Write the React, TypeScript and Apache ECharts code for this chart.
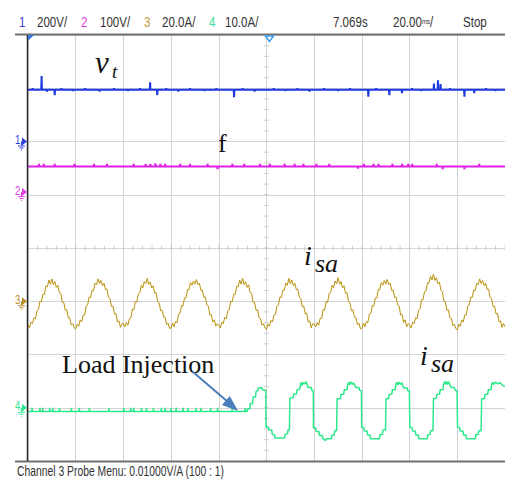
import React, { useEffect, useRef } from "react";
import * as echarts from "echarts";

// ---- axes (time in ms, 20 ms/div; vertical in divisions) ----
const xMin = 0;
const xMax = 200;
const xInterval = 20;
const yMin = -4;
const yMax = 4;
const yInterval = 1;

// ---- header / footer texts ----
const headerChannels = [
  { num: "1", scale: "200V/", color: "#3b3fe0" },
  { num: "2", scale: "100V/", color: "#e040e0" },
  { num: "3", scale: "20.0A/", color: "#c09a40" },
  { num: "4", scale: "10.0A/", color: "#40e0a0" },
];
const headerTime = "7.069s";
const headerTimebase = "20.00";
const headerState = "Stop";
const footerText = "Channel 3 Probe Menu: 0.01000V/A (100 : 1)";

// ---- channel 1 (v_t): level and spikes [ms, div] ----
const blueLevel = 2.97;
const blueSpikes: [number, number][] = [
  [2.0, 3.0], [5.7, 3.23], [8.0, 2.94], [11.2, 2.87], [14.0, 3.0], [19.0, 2.95], [24.0, 3.0],
  [30.0, 2.94], [36.0, 3.0], [42.0, 2.95], [47.0, 3.0], [51.2, 3.11], [54.2, 2.87], [58.0, 3.0],
  [63.0, 2.94], [68.0, 3.0], [74.0, 2.95], [79.0, 3.0], [86.4, 2.83], [90.0, 3.0], [95.0, 2.94],
  [103.0, 3.0], [108.0, 2.95], [113.0, 3.0], [118.0, 2.94], [124.0, 3.0], [130.0, 2.95],
  [135.0, 3.0], [142.7, 2.84], [146.0, 3.0], [151.5, 2.87], [156.8, 2.91], [161.0, 3.0],
  [165.0, 2.95], [170.2, 3.09], [171.9, 3.15], [173.0, 3.08], [177.0, 3.0], [183.0, 2.84],
  [187.1, 2.91], [192.0, 3.0], [196.0, 2.95],
];

// ---- channel 2 (f): level and spikes ----
const magentaLevel = 1.53;
const magentaSpikes: [number, number][] = [
  [4.6, 1.58], [6.6, 1.58], [11.2, 1.58], [19.5, 1.58], [27.7, 1.58], [33.1, 1.58], [44.3, 1.58],
  [49.3, 1.58], [51.3, 1.58], [53.4, 1.59], [55.5, 1.58], [57.5, 1.58], [63.8, 1.58], [67.9, 1.58],
  [75.3, 1.58], [79.5, 1.48], [85.7, 1.58], [90.7, 1.58], [97.3, 1.58], [101.4, 1.58],
  [107.6, 1.58], [111.8, 1.58], [115.5, 1.58], [120.9, 1.58], [126.3, 1.58], [138.3, 1.49],
  [140.8, 1.58], [144.9, 1.58], [147.0, 1.58], [152.8, 1.58], [156.9, 1.58], [159.4, 1.58],
  [161.1, 1.58], [171.4, 1.58], [173.9, 1.48], [183.0, 1.48], [189.2, 1.58],
];

// ---- channel 3 (i_sa source current): samples every 0.625 ms from 0 ms ----
const goldStep = 0.625;
const goldValues = [
  -1.44, -1.50, -1.39, -1.42, -1.31, -1.33, -1.18, -1.16, -1.00, -1.01, -0.87, -0.87, -0.71, -0.73, -0.60, -0.68,
  -0.58, -0.69, -0.63, -0.74, -0.70, -0.84, -0.85, -1.02, -1.02, -1.17, -1.16, -1.31, -1.31, -1.45, -1.42, -1.50,
  -1.52, -1.43, -1.47, -1.35, -1.39, -1.26, -1.26, -1.09, -1.07, -0.92, -0.93, -0.79, -0.80, -0.66, -0.69, -0.58,
  -0.67, -0.61, -0.71, -0.66, -0.78, -0.77, -0.93, -0.95, -1.10, -1.09, -1.24, -1.23, -1.39, -1.37, -1.49, -1.42,
  -1.42, -1.48, -1.40, -1.45, -1.33, -1.32, -1.15, -1.16, -1.01, -1.02, -0.86, -0.84, -0.70, -0.75, -0.63, -0.67,
  -0.57, -0.68, -0.64, -0.75, -0.71, -0.85, -0.84, -1.01, -1.03, -1.18, -1.17, -1.30, -1.30, -1.44, -1.41, -1.51,
  -1.50, -1.41, -1.48, -1.38, -1.40, -1.24, -1.23, -1.08, -1.09, -0.94, -0.94, -0.78, -0.78, -0.65, -0.70, -0.62,
  -0.68, -0.59, -0.69, -0.66, -0.80, -0.79, -0.93, -0.92, -1.07, -1.09, -1.26, -1.25, -1.39, -1.35, -1.47, -1.42,
  -1.45, -1.50, -1.39, -1.42, -1.30, -1.33, -1.18, -1.16, -1.00, -1.01, -0.87, -0.87, -0.72, -0.73, -0.60, -0.68,
  -0.57, -0.69, -0.63, -0.74, -0.69, -0.84, -0.85, -1.02, -1.02, -1.17, -1.16, -1.31, -1.32, -1.45, -1.42, -1.50,
  -1.53, -1.43, -1.47, -1.36, -1.39, -1.26, -1.25, -1.09, -1.07, -0.92, -0.93, -0.79, -0.79, -0.66, -0.70, -0.57,
  -0.67, -0.60, -0.71, -0.66, -0.78, -0.77, -0.92, -0.95, -1.10, -1.09, -1.24, -1.22, -1.39, -1.37, -1.50, -1.42,
  -1.43, -1.48, -1.40, -1.45, -1.32, -1.32, -1.15, -1.17, -1.01, -1.02, -0.85, -0.84, -0.70, -0.75, -0.62, -0.67,
  -0.56, -0.68, -0.63, -0.75, -0.71, -0.85, -0.84, -1.01, -1.03, -1.18, -1.16, -1.30, -1.31, -1.44, -1.41, -1.52,
  -1.51, -1.41, -1.48, -1.38, -1.40, -1.24, -1.23, -1.08, -1.09, -0.94, -0.94, -0.78, -0.78, -0.65, -0.70, -0.61,
  -0.68, -0.59, -0.69, -0.66, -0.80, -0.79, -0.93, -0.92, -1.07, -1.09, -1.26, -1.25, -1.40, -1.35, -1.48, -1.42,
  -1.45, -1.50, -1.39, -1.42, -1.31, -1.33, -1.17, -1.14, -0.97, -0.97, -0.82, -0.81, -0.65, -0.66, -0.53, -0.60,
  -0.49, -0.61, -0.56, -0.67, -0.64, -0.79, -0.82, -1.00, -1.01, -1.17, -1.16, -1.31, -1.32, -1.46, -1.43, -1.51,
  -1.54, -1.43, -1.47, -1.35, -1.39, -1.26, -1.26, -1.09, -1.07, -0.92, -0.93, -0.79, -0.80, -0.66, -0.69, -0.58,
  -0.67, -0.61, -0.71, -0.66, -0.78, -0.77, -0.93, -0.95, -1.10, -1.09, -1.24, -1.23, -1.39, -1.37, -1.49, -1.42,
  -1.48,
];

// ---- channel 4 (i_sa load current) ----
const greenLevel = -3.07;
const greenPreTicks: [number, number][] = [
  [1.7, -3.0], [5.0, -3.0], [6.2, -3.0], [9.1, -3.0], [10.4, -3.0], [13.2, -3.0], [18.2, -3.0],
  [21.5, -3.0], [25.7, -3.0], [33.9, -3.0], [40.2, -3.0], [43.1, -3.0], [44.3, -3.0], [47.6, -3.0],
  [49.7, -3.0], [52.6, -3.0], [55.9, -3.0], [57.5, -3.0], [60.0, -3.0], [62.1, -3.0], [65.0, -3.0],
  [67.1, -3.0], [70.4, -3.0], [72.5, -3.0], [76.6, -3.0], [79.5, -3.0], [85.6, -3.0], [91.1, -3.0],
];
const greenAfterInjection: [number, number][] = [
  [91.8, -3.07], [92.2, -3.02], [93.0, -3.02], [93.2, -2.92], [94.2, -2.92], [94.4, -2.80], [95.4, -2.80],
  [95.6, -2.70], [96.4, -2.68], [96.6, -2.63], [98.0, -2.62], [98.3, -2.66], [99.7, -2.67],
  [99.8, -3.36], [100.8, -3.36], [101.0, -3.42], [102.2, -3.42], [102.4, -3.50], [103.4, -3.51],
  [103.6, -3.57], [107.6, -3.57], [107.8, -3.50], [108.8, -3.49], [109.0, -3.42], [109.6, -3.42],
  [109.8, -2.82], [111.2, -2.81], [111.4, -2.74], [112.6, -2.74], [112.8, -2.66], [114.0, -2.65],
  [114.2, -2.58], [114.6, -2.52], [115.0, -2.58], [115.4, -2.53], [116.2, -2.55], [116.6, -2.51],
  [117.0, -2.56], [117.4, -2.62], [118.8, -2.62], [119.0, -2.67], [119.6, -2.68],
  [119.7, -3.38], [120.6, -3.38], [120.8, -3.44], [122.0, -3.45], [122.2, -3.52], [123.4, -3.52],
  [123.6, -3.58], [124.4, -3.60], [124.6, -3.62], [125.2, -3.58], [127.2, -3.58], [127.4, -3.52],
  [128.4, -3.51], [128.6, -3.43], [129.4, -3.43], [129.6, -2.83], [131.0, -2.83], [131.2, -2.75],
  [132.4, -2.74], [132.6, -2.66], [133.8, -2.66], [134.0, -2.58], [134.4, -2.52], [134.8, -2.57],
  [135.2, -2.51], [136.0, -2.56], [136.4, -2.53], [137.0, -2.58], [137.4, -2.62], [138.8, -2.62],
  [139.0, -2.67], [139.8, -2.68],
  [139.9, -3.37], [140.8, -3.37], [141.0, -3.43], [142.2, -3.44], [142.4, -3.51], [143.4, -3.51],
  [143.6, -3.58], [147.4, -3.58], [147.6, -3.50], [148.6, -3.50], [148.8, -3.42], [149.9, -3.42],
  [150.1, -2.83], [151.2, -2.83], [151.4, -2.75], [152.6, -2.74], [152.8, -2.66], [154.0, -2.66],
  [154.2, -2.57], [154.6, -2.52], [155.0, -2.57], [155.6, -2.52], [156.2, -2.56], [156.8, -2.53],
  [157.2, -2.60], [157.6, -2.63], [159.0, -2.63], [159.2, -2.68], [159.9, -2.68],
  [160.1, -3.37], [161.0, -3.37], [161.2, -3.43], [162.4, -3.44], [162.6, -3.51], [163.6, -3.51],
  [163.8, -3.58], [167.4, -3.58], [167.6, -3.51], [168.6, -3.50], [168.8, -3.43], [169.8, -3.43],
  [170.0, -2.83], [171.2, -2.82], [171.4, -2.75], [172.6, -2.74], [172.8, -2.66], [174.0, -2.66],
  [174.2, -2.57], [174.6, -2.51], [175.0, -2.56], [175.4, -2.50], [175.8, -2.56], [176.4, -2.51],
  [177.0, -2.58], [177.4, -2.62], [178.8, -2.62], [179.0, -2.67], [179.9, -2.68],
  [180.1, -3.37], [181.0, -3.37], [181.2, -3.43], [182.4, -3.44], [182.6, -3.51], [183.6, -3.51],
  [183.8, -3.58], [187.6, -3.58], [187.8, -3.50], [188.8, -3.50], [189.0, -3.43], [190.0, -3.43],
  [190.2, -2.83], [191.4, -2.83], [191.6, -2.75], [192.8, -2.74], [193.0, -2.66], [194.2, -2.66],
  [194.4, -2.57], [194.8, -2.52], [195.2, -2.56], [196.0, -2.52], [197.0, -2.55], [198.0, -2.53],
  [199.0, -2.58], [200.0, -2.60],
];

// channel ground markers (div)
const channelMarkers = [
  { label: "1", color: "#2f3fe0", level: 2.0 },
  { label: "2", color: "#e040e0", level: 1.05 },
  { label: "3", color: "#b8902a", level: -1.0 },
  { label: "4", color: "#30e890", level: -3.0 },
];

// ---- layout constants (pixels) ----
const GRID_LEFT = 28;
const GRID_TOP = 35;
const GRID_BOTTOM_Y = 461;
const DIV_H = (GRID_BOTTOM_Y - GRID_TOP) / (yMax - yMin);
const yPix = (d: number) => GRID_TOP + (yMax - d) * DIV_H;

function flatWithSpikes(level: number, spikes: [number, number][], t0: number, t1: number) {
  const out: [number, number][] = [[t0, level]];
  spikes.forEach(([t, v]) => {
    out.push([t - 0.15, level], [t, v], [t + 0.15, level]);
  });
  out.push([t1, level]);
  return out;
}

export default function App() {
  const ref = useRef<HTMLDivElement>(null);
  useEffect(() => {
    document.body.style.margin = "0";
    if (!ref.current) return;
    const chart = echarts.init(ref.current, undefined, { renderer: "svg" });

    const blueData = flatWithSpikes(blueLevel, blueSpikes, xMin, xMax);
    const magentaData = flatWithSpikes(magentaLevel, magentaSpikes, xMin, xMax);
    const goldData = goldValues.map((v, i) => [i * goldStep, v]);
    const greenData = [
      ...flatWithSpikes(greenLevel, greenPreTicks, xMin, 91.8).slice(0, -1),
      ...greenAfterInjection,
    ];

    const minorH: number[][] = [];
    for (let t = xMin; t <= xMax; t += xInterval / 5) minorH.push([t, 0]);
    const minorV: number[][] = [];
    for (let k = yMin * 5; k <= yMax * 5; k++) minorV.push([100, k / 5]);

    const serifFont = "'Liberation Serif', 'DejaVu Serif', serif";
    const scopeFont = "'Liberation Sans', Arial, sans-serif";
    const HS = 0.77; // horizontal condensing of the scope font

    const graphics: any[] = [];
    // borders
    graphics.push(
      { type: "line", shape: { x1: 15, y1: 34.5, x2: 505, y2: 34.5 }, style: { stroke: "#707070", lineWidth: 2 }, z: 10 },
      { type: "line", shape: { x1: 15, y1: 461.5, x2: 505, y2: 461.5 }, style: { stroke: "#707070", lineWidth: 2 }, z: 10 },
      { type: "line", shape: { x1: 27.5, y1: 35, x2: 27.5, y2: 461 }, style: { stroke: "#2a2a2a", lineWidth: 1.5 }, z: 10 }
    );
    // trigger markers
    graphics.push(
      { type: "polygon", shape: { points: [[28, 35], [34, 35], [28, 41]] }, style: { fill: "#3a7be0" }, z: 11 },
      { type: "polygon", shape: { points: [[265.5, 36], [273.5, 36], [269.5, 41.5]] }, style: { fill: "#ffffff", stroke: "#3d9be9", lineWidth: 1.5 }, z: 11 }
    );
    // header
    const hx = [[19, 37], [81, 100], [144, 162], [209, 225]];
    const hText = (x: number, text: string, fill: string, extra: any = {}) => ({
      type: "text", x, y: 22, scaleX: HS,
      style: { text, fill, font: `15px ${scopeFont}`, verticalAlign: "middle", ...extra },
    });
    headerChannels.forEach((c, i) => {
      graphics.push(hText(hx[i][0], c.num, c.color), hText(hx[i][1], c.scale, "#333333"));
    });
    graphics.push(
      hText(333, headerTime, "#333333"),
      hText(393, `${headerTimebase}{u|ms}/`, "#333333", {
        rich: { u: { fontSize: 8, fontFamily: scopeFont, fill: "#333333" } },
      }),
      hText(463, headerState, "#333333"),
      {
        type: "text", x: 17, y: 471.5, scaleX: 0.74,
        style: { text: footerText, fill: "#333333", font: `14px ${scopeFont}`, verticalAlign: "middle" },
      }
    );
    // channel markers
    channelMarkers.forEach((m) => {
      const y = yPix(m.level);
      graphics.push(
        { type: "text", x: 15, y: y - 2, scaleX: 0.8, style: { text: m.label, fill: m.color, font: `12px ${scopeFont}`, verticalAlign: "middle" }, z: 12 },
        { type: "polygon", shape: { points: [[22, y - 4], [27, y], [22, y + 4]] }, style: { fill: m.color }, z: 12 },
        { type: "line", shape: { x1: 21.5, y1: y, x2: 21.5, y2: y + 4 }, style: { stroke: m.color, lineWidth: 1 }, z: 12 },
        { type: "line", shape: { x1: 18, y1: y + 4.5, x2: 25, y2: y + 4.5 }, style: { stroke: m.color, lineWidth: 1 }, z: 12 },
        { type: "line", shape: { x1: 19.5, y1: y + 6.5, x2: 23.5, y2: y + 6.5 }, style: { stroke: m.color, lineWidth: 1 }, z: 12 },
        { type: "line", shape: { x1: 21, y1: y + 8.5, x2: 22, y2: y + 8.5 }, style: { stroke: m.color, lineWidth: 1 }, z: 12 }
      );
    });
    // annotations
    graphics.push(
      { type: "text", x: 95, y: 62, style: { text: "v", fill: "#111111", font: `italic 31px ${serifFont}`, verticalAlign: "middle" }, z: 20 },
      { type: "text", x: 112, y: 71, style: { text: "t", fill: "#111111", font: `italic 19px ${serifFont}`, verticalAlign: "middle" }, z: 20 },
      { type: "text", x: 218, y: 143.5, style: { text: "f", fill: "#111111", font: `26px ${serifFont}`, verticalAlign: "middle" }, z: 20 },
      { type: "text", x: 304, y: 255.5, style: { text: "i", fill: "#111111", font: `italic 28px ${serifFont}`, verticalAlign: "middle" }, z: 20 },
      { type: "text", x: 315, y: 263, style: { text: "sa", fill: "#111111", font: `italic 26px ${serifFont}`, verticalAlign: "middle" }, z: 20 },
      { type: "text", x: 420, y: 355.5, style: { text: "i", fill: "#111111", font: `italic 28px ${serifFont}`, verticalAlign: "middle" }, z: 20 },
      { type: "text", x: 431, y: 363, style: { text: "sa", fill: "#111111", font: `italic 26px ${serifFont}`, verticalAlign: "middle" }, z: 20 },
      { type: "text", x: 62, y: 364, style: { text: "Load Injection", fill: "#111111", font: `26px ${serifFont}`, verticalAlign: "middle" }, z: 20 },
      { type: "line", shape: { x1: 193, y1: 372, x2: 228, y2: 402 }, style: { stroke: "#4a7ebb", lineWidth: 2 }, z: 20 },
      { type: "polygon", shape: { points: [[238, 411], [222, 405], [229.8, 396]] }, style: { fill: "#4a7ebb" }, z: 20 }
    );

    chart.setOption({
      animation: false,
      backgroundColor: "#ffffff",
      grid: { left: GRID_LEFT, top: GRID_TOP, right: -6, bottom: 482 - GRID_BOTTOM_Y, show: false },
      xAxis: {
        type: "value", min: xMin, max: xMax, interval: xInterval,
        axisLine: { show: false }, axisTick: { show: false }, axisLabel: { show: false },
        splitLine: { show: true, lineStyle: { color: "#d4d4d4", width: 1 } },
      },
      yAxis: {
        type: "value", min: yMin, max: yMax, interval: yInterval,
        axisLine: { show: false }, axisTick: { show: false }, axisLabel: { show: false },
        splitLine: { show: true, lineStyle: { color: "#d4d4d4", width: 1 } },
      },
      series: [
        { type: "scatter", data: minorH, symbol: "rect", symbolSize: [1, 5], itemStyle: { color: "#c4c4c4" }, silent: true, z: 1 },
        { type: "scatter", data: minorV, symbol: "rect", symbolSize: [5, 1], itemStyle: { color: "#c4c4c4" }, silent: true, z: 1 },
        { name: "ch1", type: "line", data: blueData, showSymbol: false, symbol: "none", lineStyle: { color: "#1e3ae0", width: 2 }, z: 3 },
        { name: "ch2", type: "line", data: magentaData, showSymbol: false, symbol: "none", lineStyle: { color: "#e020e8", width: 2 }, z: 3 },
        { name: "ch3", type: "line", data: goldData, showSymbol: false, symbol: "none", lineStyle: { color: "#b8920e", width: 1 }, z: 3 },
        { name: "ch4", type: "line", data: greenData, showSymbol: false, symbol: "none", lineStyle: { color: "#2ee88c", width: 1.5 }, z: 3 },
      ],
      graphic: graphics,
    });
    return () => chart.dispose();
  }, []);
  return <div ref={ref} style={{ width: 505, height: 482 }} />;
}
